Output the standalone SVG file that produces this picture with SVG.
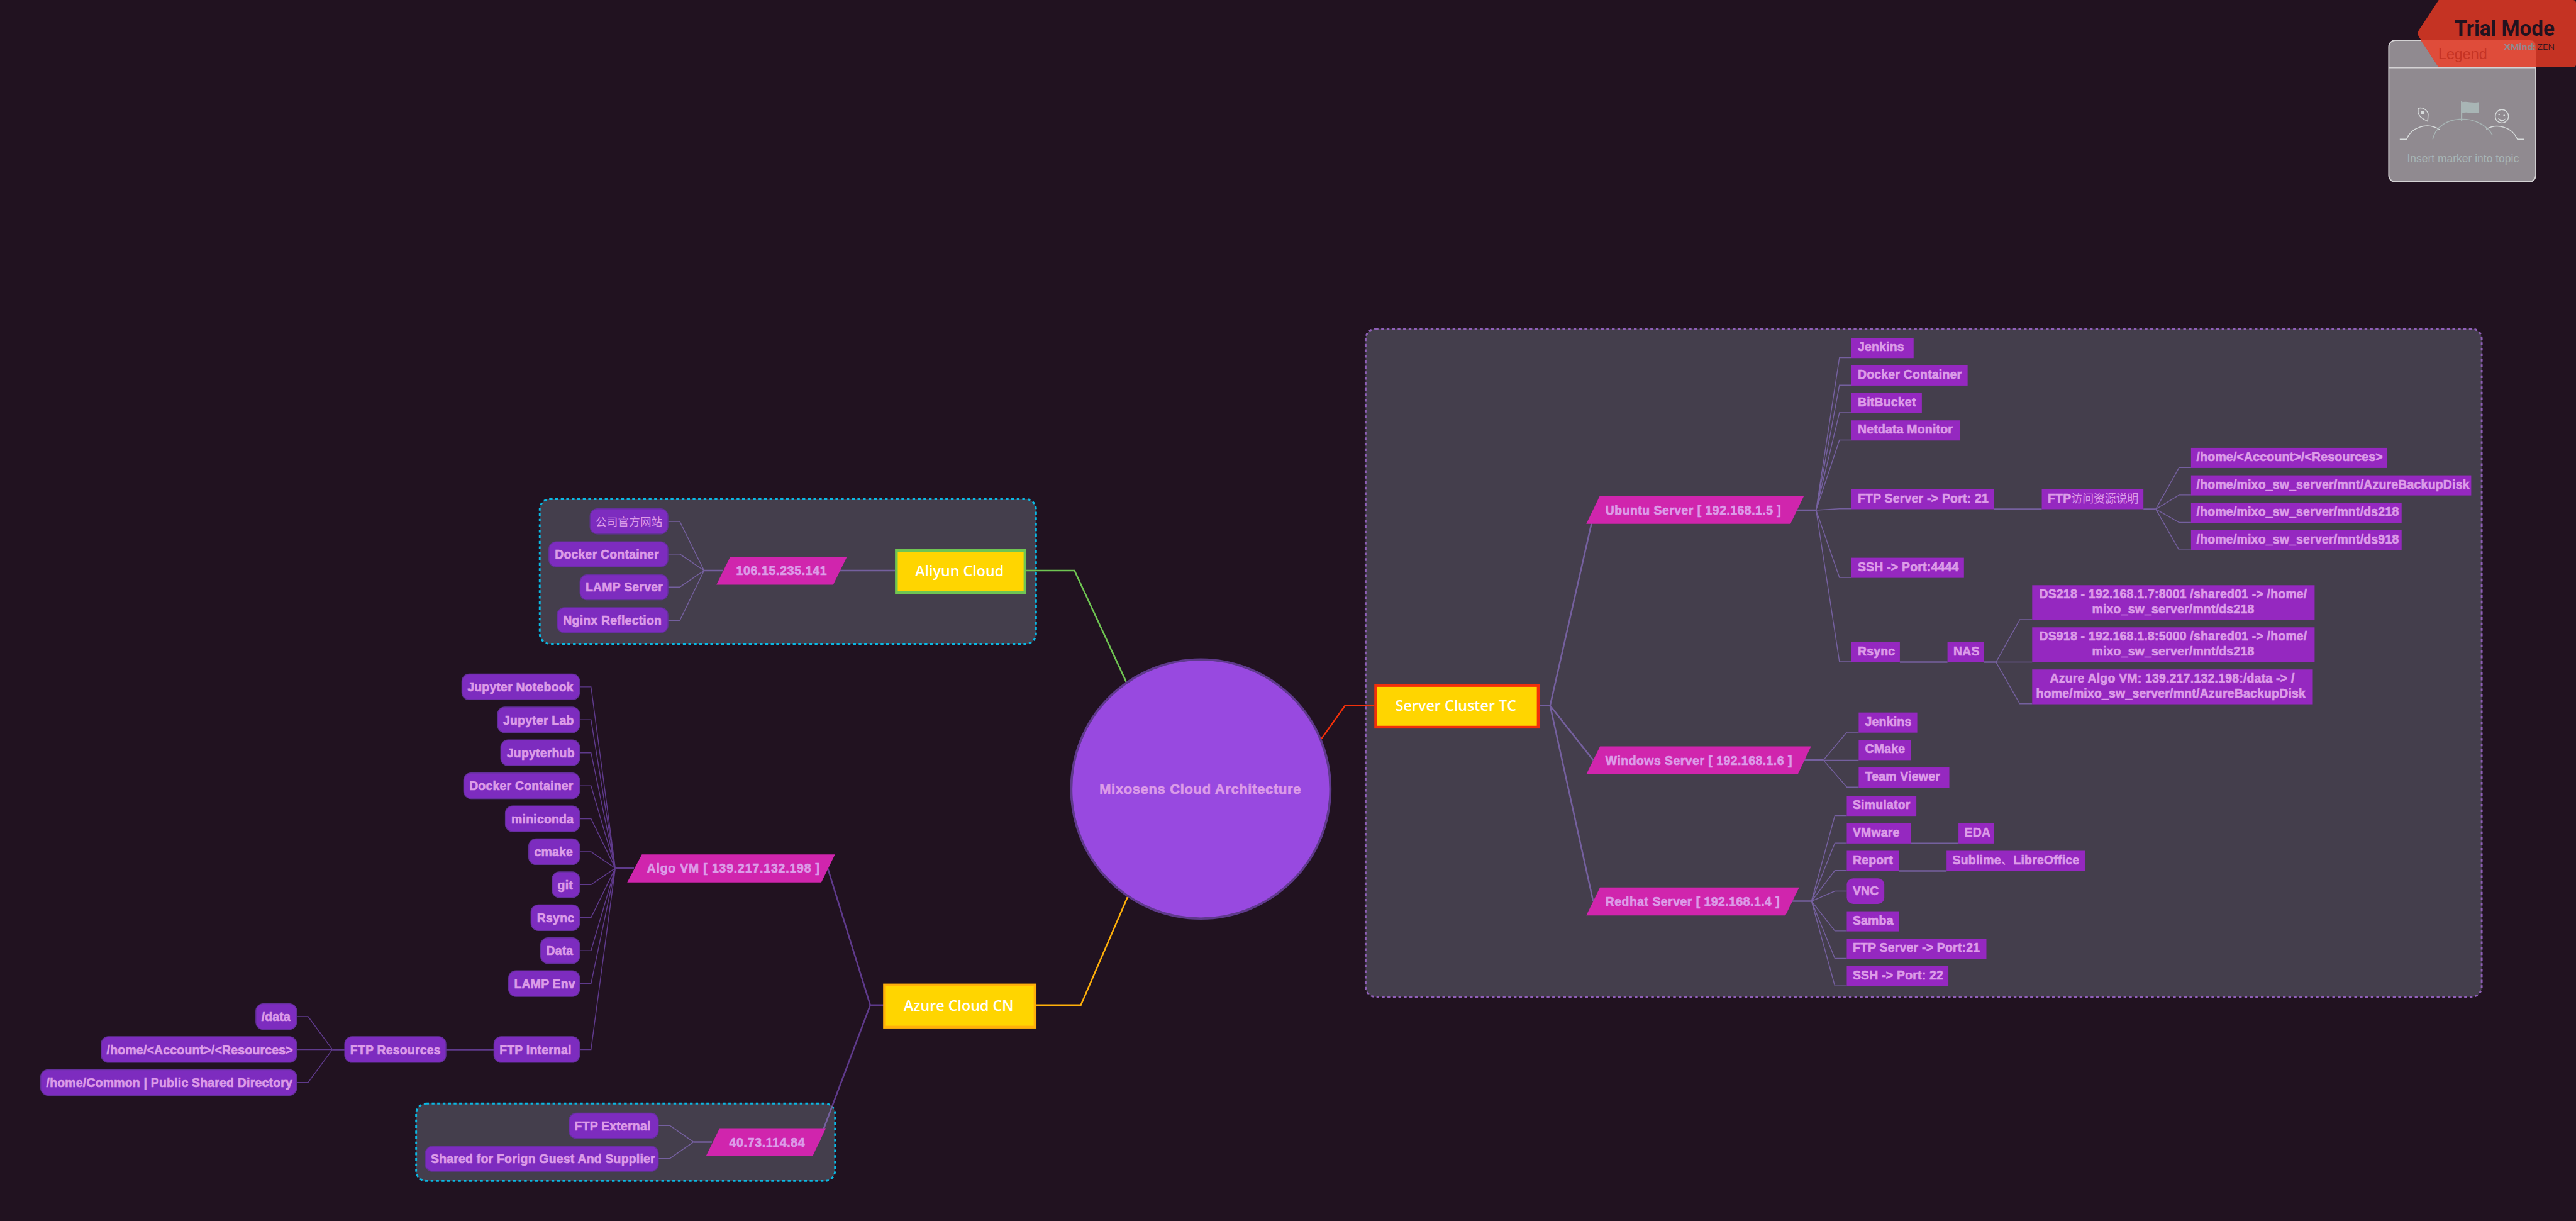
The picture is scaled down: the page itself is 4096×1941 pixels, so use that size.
<svg xmlns="http://www.w3.org/2000/svg" width="4096" height="1941" viewBox="0 0 4096 1941">
<style>
.t{font-family:"Liberation Sans","Noto Sans CJK SC",sans-serif;font-weight:700;font-size:26.6px;letter-spacing:.35px;fill:#dc9ce8;stroke:#dc9ce8;stroke-width:.9px}
.p .t{letter-spacing:.7px}
.m{text-anchor:middle}
.cj{font-weight:400;stroke-width:.2px;letter-spacing:.4px}
.y{font-family:"Open Sans","Noto Sans",sans-serif;font-weight:600;font-size:32px;fill:#fff;text-anchor:middle}
.n rect{fill:#9528c0}
.r rect{fill:#7d2cbf;stroke:#63309a;stroke-width:2}
.p polygon{fill:#d025ad}
.c,.d,.g,.h{fill:none;stroke-linejoin:miter}
.c{stroke:#5f3a8c;stroke-width:2}
.d{stroke:#5f3a8c;stroke-width:3.5}
.g{stroke:#75609f;stroke-width:2}
.h{stroke:#75609f;stroke-width:3.5}
.b{stroke-width:4;stroke-dasharray:6 6}
.yn{fill:#ffd500;stroke-width:6}
</style>
<rect width="4096" height="1941" fill="#211220"/>
<g transform="scale(0.72793)">
<g id="boundaries">
<rect class="b" x="2983" y="718" width="2438" height="1459" rx="22" fill="#443e4c" stroke="#8f5fb8"/>
<rect class="b" x="1179" y="1090" width="1084" height="316" rx="22" fill="#443e4c" stroke="#09b9e4"/>
<rect class="b" x="909" y="2410" width="915" height="169" rx="22" fill="#443e4c" stroke="#09b9e4"/>
</g>
<g id="connectors">
<path d="M2886 1614L2938 1541H3002" fill="none" stroke="#f2300a" stroke-width="3.5"/>
<path d="M2460 1489L2347 1246H2242" fill="none" stroke="#6fc552" stroke-width="3.5"/>
<path d="M2463 1959L2361 2195H2264" fill="none" stroke="#ffb00a" stroke-width="3.5"/>
<path class="h" d="M3363 1541H3386L3483 1114M3386 1541L3480 1660M3386 1541L3480 1968"/>
<path class="h" d="M3923 1114H3967M4682 1112H4709M4356 1112H4460M4150 1446H4254M4334 1446H4360M3941 1660H3983M3914 1968H3957M4174 1842H4278M4148 1902H4252"/>
<path class="g" d="M3967 1114L4018 781H4044M3967 1114L4018 841H4044M3967 1114L4018 901H4044M3967 1114L4018 961H4044M3967 1114L4018 1111H4044M3967 1114L4018 1261H4044M3967 1114L4018 1445H4044"/>
<path class="g" d="M4709 1112L4760 1021H4786M4709 1112L4760 1081H4786M4709 1112L4760 1141H4786M4709 1112L4760 1201H4786"/>
<path class="g" d="M4360 1446L4412 1353H4439M4360 1446H4439M4360 1446L4412 1537H4439"/>
<path class="g" d="M3983 1660L4034 1599H4060M3983 1660H4060M3983 1660L4034 1719H4060"/>
<path class="g" d="M3957 1968L4008 1781H4034M3957 1968L4008 1841H4034M3957 1968L4008 1901H4034M3957 1968L4008 1946H4034M3957 1968L4008 2033H4034M3957 1968L4008 2093H4034M3957 1968L4008 2153H4034"/>
<path class="h" d="M1834 1246H1955M1538 1246H1579"/>
<path class="g" d="M1538 1246L1485 1139H1459M1538 1246L1485 1210H1459M1538 1246L1485 1282H1459M1538 1246L1485 1355H1459"/>
<path class="d" d="M1344 1896H1385M1808 1896L1901 2195M1901 2195H1934M1901 2195L1818 2415M974 2292H1079M726 2292H753"/>
<path class="h" d="M1818 2415L1788 2495M1515 2494H1555"/>
<path class="c" d="M1344 1896L1291 1500H1266M1344 1896L1291 1572H1266M1344 1896L1291 1644H1266M1344 1896L1291 1716H1266M1344 1896L1291 1788H1266M1344 1896L1291 1860H1266M1344 1896L1291 1932H1266M1344 1896L1291 2004H1266M1344 1896L1291 2076H1266M1344 1896L1291 2148H1266M1344 1896L1291 2292H1266"/>
<path class="c" d="M726 2292L673 2220H648M726 2292H648M726 2292L673 2364H648"/>
<path class="g" d="M1515 2494L1463 2458H1438M1515 2494L1463 2530H1438"/>
</g>
<g id="root"><circle cx="2623" cy="1723" r="283" fill="#9849e0" stroke="#5f3a8c" stroke-width="5"/><text class="t m" x="2622" y="1733" style="font-size:30px;letter-spacing:1px">Mixosens Cloud Architecture</text></g>
<g id="server-cluster"><rect class="yn" x="3005" y="1497" width="355" height="91" stroke="#f2300a"/><text class="y" x="3180" y="1553">Server Cluster TC</text></g>
<g id="aliyun"><rect class="yn" x="1958" y="1202" width="281" height="92" stroke="#6fc552"/><text class="y" x="2096" y="1258">Aliyun Cloud</text></g>
<g id="azure"><rect class="yn" x="1932" y="2151" width="329" height="92" stroke="#ffb00a"/><text class="y" x="2094" y="2207">Azure Cloud CN</text></g>
<g id="ubuntu" class="p"><polygon points="3494,1084 3940,1084 3911,1144 3465,1144"/><text class="t" x="3507" y="1124">Ubuntu Server [ 192.168.1.5 ]</text></g>
<g id="windows" class="p"><polygon points="3495,1630 3956,1630 3927,1691 3465,1691"/><text class="t" x="3507" y="1670">Windows Server [ 192.168.1.6 ]</text></g>
<g id="redhat" class="p"><polygon points="3495,1938 3930,1938 3900,1999 3465,1999"/><text class="t" x="3507" y="1978">Redhat Server [ 192.168.1.4 ]</text></g>
<g id="ip-aliyun" class="p"><polygon points="1595,1216 1850,1216 1820,1277 1565,1277"/><text class="t" x="1608" y="1256" style="letter-spacing:1px">106.15.235.141</text></g>
<g id="algo-vm" class="p"><polygon points="1402,1866 1824,1866 1794,1927 1370,1927"/><text class="t" x="1413" y="1906" style="letter-spacing:1.2px">Algo VM [ 139.217.132.198 ]</text></g>
<g id="ip-azure" class="p"><polygon points="1572,2464 1804,2464 1775,2525 1542,2525"/><text class="t" x="1593" y="2504" style="letter-spacing:1px">40.73.114.84</text></g>
<g id="u1" class="n"><rect x="4044" y="738" width="136" height="44"/><text class="t" x="4058" y="767">Jenkins</text></g>
<g id="u2" class="n"><rect x="4044" y="798" width="254" height="44"/><text class="t" x="4058" y="827">Docker Container</text></g>
<g id="u3" class="n"><rect x="4044" y="858" width="154" height="44"/><text class="t" x="4058" y="887">BitBucket</text></g>
<g id="u4" class="n"><rect x="4044" y="918" width="238" height="44"/><text class="t" x="4058" y="947">Netdata Monitor</text></g>
<g id="u5" class="n"><rect x="4044" y="1068" width="312" height="44"/><text class="t" x="4058" y="1097">FTP Server -&gt; Port: 21</text></g>
<g id="u6" class="n"><rect x="4044" y="1218" width="246" height="44"/><text class="t" x="4058" y="1247">SSH -&gt; Port:4444</text></g>
<g id="u7" class="n"><rect x="4044" y="1402" width="106" height="44"/><text class="t" x="4058" y="1431">Rsync</text></g>
<g id="u8" class="n"><rect x="4254" y="1402" width="80" height="44"/><text class="t" x="4267" y="1431">NAS</text></g>
<g id="f0" class="n"><rect x="4460" y="1068" width="222" height="44"/><text class="t" x="4473" y="1097">FTP<tspan class="cj" style="font-size:24.5px;letter-spacing:0">访问资源说明</tspan></text></g>
<g id="f1" class="n"><rect x="4786" y="978" width="428" height="44"/><text class="t" x="4798" y="1007">/home/&lt;Account&gt;/&lt;Resources&gt;</text></g>
<g id="f2" class="n"><rect x="4786" y="1038" width="612" height="44"/><text class="t" x="4798" y="1067">/home/mixo_sw_server/mnt/AzureBackupDisk</text></g>
<g id="f3" class="n"><rect x="4786" y="1098" width="460" height="44"/><text class="t" x="4798" y="1127">/home/mixo_sw_server/mnt/ds218</text></g>
<g id="f4" class="n"><rect x="4786" y="1158" width="460" height="44"/><text class="t" x="4798" y="1187">/home/mixo_sw_server/mnt/ds918</text></g>
<g id="nas1" class="n"><rect x="4439" y="1278" width="617" height="76"/><text class="t m" x="4747" y="1307">DS218 - 192.168.1.7:8001 /shared01 -&gt; /home/</text><text class="t m" x="4747" y="1339">mixo_sw_server/mnt/ds218</text></g>
<g id="nas2" class="n"><rect x="4439" y="1370" width="617" height="76"/><text class="t m" x="4747" y="1399">DS918 - 192.168.1.8:5000 /shared01 -&gt; /home/</text><text class="t m" x="4747" y="1431">mixo_sw_server/mnt/ds218</text></g>
<g id="nas3" class="n"><rect x="4439" y="1462" width="613" height="76"/><text class="t m" x="4745" y="1491">Azure Algo VM: 139.217.132.198:/data -&gt; /</text><text class="t m" x="4742" y="1523">home/mixo_sw_server/mnt/AzureBackupDisk</text></g>
<g id="w1" class="n"><rect x="4060" y="1556" width="128" height="44"/><text class="t" x="4074" y="1585">Jenkins</text></g>
<g id="w2" class="n"><rect x="4060" y="1616" width="114" height="44"/><text class="t" x="4074" y="1645">CMake</text></g>
<g id="w3" class="n"><rect x="4060" y="1676" width="198" height="44"/><text class="t" x="4074" y="1705">Team Viewer</text></g>
<g id="r1" class="n"><rect x="4034" y="1738" width="152" height="44"/><text class="t" x="4047" y="1767">Simulator</text></g>
<g id="r2" class="n"><rect x="4034" y="1798" width="140" height="44"/><text class="t" x="4047" y="1827">VMware</text></g>
<g id="r2a" class="n"><rect x="4278" y="1798" width="78" height="44"/><text class="t" x="4291" y="1827">EDA</text></g>
<g id="r3" class="n"><rect x="4034" y="1858" width="114" height="44"/><text class="t" x="4047" y="1887">Report</text></g>
<g id="r3a" class="n"><rect x="4252" y="1858" width="302" height="44"/><text class="t" x="4265" y="1887">Sublime<tspan class="cj">、</tspan>LibreOffice</text></g>
<g id="r4" class="n"><rect x="4034" y="1918" width="82" height="56" rx="14"/><text class="t" x="4047" y="1955">VNC</text></g>
<g id="r5" class="n"><rect x="4034" y="1990" width="114" height="44"/><text class="t" x="4047" y="2019">Samba</text></g>
<g id="r6" class="n"><rect x="4034" y="2050" width="305" height="44"/><text class="t" x="4047" y="2079">FTP Server -&gt; Port:21</text></g>
<g id="r7" class="n"><rect x="4034" y="2110" width="222" height="44"/><text class="t" x="4047" y="2139">SSH -&gt; Port: 22</text></g>
<g id="a1" class="r"><rect x="1289" y="1111" width="170" height="55" rx="16"/><text class="t cj" x="1301" y="1148" style="font-size:24px">公司官方网站</text></g>
<g id="a2" class="r"><rect x="1199" y="1183" width="260" height="55" rx="16"/><text class="t" x="1212" y="1220">Docker Container</text></g>
<g id="a3" class="r"><rect x="1267" y="1255" width="192" height="55" rx="16"/><text class="t" x="1279" y="1292">LAMP Server</text></g>
<g id="a4" class="r"><rect x="1217" y="1327" width="242" height="55" rx="16"/><text class="t" x="1230" y="1364">Nginx Reflection</text></g>
<g id="v1" class="r"><rect x="1009" y="1472" width="257" height="56" rx="16"/><text class="t" x="1021" y="1510">Jupyter Notebook</text></g>
<g id="v2" class="r"><rect x="1087" y="1544" width="179" height="56" rx="16"/><text class="t" x="1099" y="1582">Jupyter Lab</text></g>
<g id="v3" class="r"><rect x="1094" y="1616" width="172" height="56" rx="16"/><text class="t" x="1107" y="1654">Jupyterhub</text></g>
<g id="v4" class="r"><rect x="1013" y="1688" width="253" height="56" rx="16"/><text class="t" x="1025" y="1726">Docker Container</text></g>
<g id="v5" class="r"><rect x="1104" y="1760" width="162" height="56" rx="16"/><text class="t" x="1117" y="1798">miniconda</text></g>
<g id="v6" class="r"><rect x="1155" y="1832" width="111" height="56" rx="16"/><text class="t" x="1167" y="1870">cmake</text></g>
<g id="v7" class="r"><rect x="1206" y="1904" width="60" height="56" rx="16"/><text class="t" x="1218" y="1942">git</text></g>
<g id="v8" class="r"><rect x="1160" y="1976" width="106" height="56" rx="16"/><text class="t" x="1173" y="2014">Rsync</text></g>
<g id="v9" class="r"><rect x="1181" y="2048" width="85" height="56" rx="16"/><text class="t" x="1193" y="2086">Data</text></g>
<g id="v10" class="r"><rect x="1111" y="2120" width="155" height="56" rx="16"/><text class="t" x="1123" y="2158">LAMP Env</text></g>
<g id="v11" class="r"><rect x="1079" y="2264" width="187" height="56" rx="16"/><text class="t" x="1091" y="2302">FTP Internal</text></g>
<g id="v12" class="r"><rect x="753" y="2264" width="221" height="56" rx="16"/><text class="t" x="765" y="2302">FTP Resources</text></g>
<g id="d1" class="r"><rect x="559" y="2192" width="89" height="56" rx="16"/><text class="t" x="571" y="2230">/data</text></g>
<g id="d2" class="r"><rect x="221" y="2264" width="427" height="56" rx="16"/><text class="t" x="233" y="2302">/home/&lt;Account&gt;/&lt;Resources&gt;</text></g>
<g id="d3" class="r"><rect x="89" y="2336" width="559" height="56" rx="16"/><text class="t" x="101" y="2374">/home/Common | Public Shared Directory</text></g>
<g id="e1" class="r"><rect x="1243" y="2431" width="195" height="55" rx="16"/><text class="t" x="1255" y="2468">FTP External</text></g>
<g id="e2" class="r"><rect x="929" y="2503" width="509" height="55" rx="16"/><text class="t" x="941" y="2540">Shared for Forign Guest And Supplier</text></g>
<g id="legend">
<rect x="5218" y="88" width="321" height="309" rx="14" fill="#908a90" stroke="#d4d2d4" stroke-width="2.5"/>
<path d="M5218 148H5539" stroke="#d4d2d4" stroke-width="2"/>
<path d="M5282 237c8-4 20 2 22 12l-1 16c-8-4-20-10-21-20c0-3 0-6 0-8z" fill="none" stroke="#d8dcdc" stroke-width="2"/>
<circle cx="5292" cy="246" r="4" fill="#d8dcdc"/>
<path d="M5377 264V221" stroke="#a8b5b5" stroke-width="3"/>
<path d="M5377 223c12-3 24 3 38 0v23c-14 3-26-3-38 1z" fill="#a8b5b5"/>
<circle cx="5465" cy="254" r="14.5" fill="none" stroke="#d8dcdc" stroke-width="2"/>
<circle cx="5459" cy="250" r="1.8" fill="#d8dcdc"/><circle cx="5470" cy="252" r="1.8" fill="#d8dcdc"/>
<path d="M5456 258q10 6 17 1q-4 8-11 6z" fill="#d8dcdc"/>
<path d="M5242 304H5257C5266 280 5300 265 5329 283M5431 282C5455 268 5488 278 5499 304H5514" fill="none" stroke="#d8dcdc" stroke-width="2"/>
<path d="M5314 304C5325 250 5415 245 5444 294" fill="none" stroke="#a8b5b5" stroke-width="2"/>
<text x="5258" y="354" font-family="Liberation Sans,Arial,sans-serif" font-size="24" fill="#a8b5b5">Insert marker into topic</text>
</g>
<g id="trial">
<path d="M5327 0H5620Q5627 0 5627 7V140Q5627 147 5620 147H5327L5283 79Q5280 73 5283 67Z" fill="#c53323"/>
<path d="M5288 88H5526Q5539 88 5539 101V147H5327Z" fill="#df4c3a"/>
<text x="5326" y="129" font-family="Liberation Sans,sans-serif" font-size="32" fill="#c53323">Legend</text>
<text x="5361" y="78" font-family="Roboto,sans-serif" font-weight="700" font-size="48" fill="#21121f" textLength="219" lengthAdjust="spacingAndGlyphs">Trial Mode</text>
<text x="5470" y="109" font-family="Roboto,sans-serif" font-weight="700" font-size="18.5" fill="#8f8a8f" textLength="69" lengthAdjust="spacingAndGlyphs">XMind:</text>
<text x="5542" y="109" font-family="Roboto,sans-serif" font-weight="300" font-size="18.5" fill="#21121f" textLength="38" lengthAdjust="spacingAndGlyphs">ZEN</text>
</g>
</g>
</svg>
